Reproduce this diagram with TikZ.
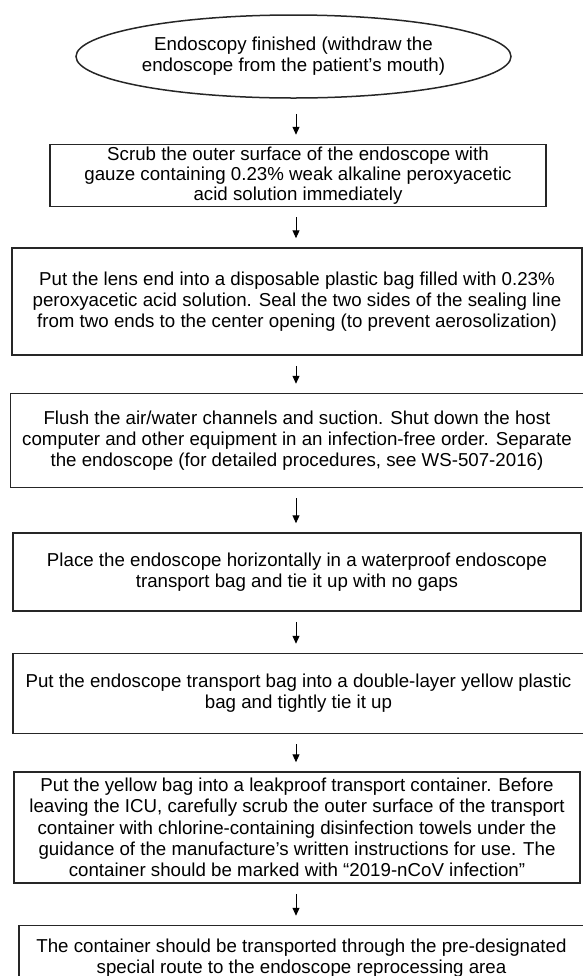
\documentclass[tikz,border=0pt]{standalone}
\usepackage{fontspec}
\setmainfont{Liberation Sans}
\usetikzlibrary{arrows.meta, positioning, shapes.geometric}

\begin{document}
\begin{tikzpicture}[
    x=0.5pt, y=-0.5pt,
    every node/.style={font=\fontsize{9.35}{10.6}\selectfont, text=black},
    startnode/.style={ellipse, draw=black!85, line width=0.75pt, inner sep=0pt, minimum width=217.5pt, minimum height=41.5pt, align=center},
    block/.style={rectangle, draw=black!85, line width=0.75pt, inner sep=0pt, align=center},
    arrow/.style={-{Triangle[length=4pt, width=3.5pt]}, line width=0.5pt, shorten <=5pt, shorten >=4.5pt},
]
\useasboundingbox (0,0) rectangle (583,976);

% Main vertical flow
\node[startnode] (finish) at (293.5,56.5) {Endoscopy finished (withdraw the\\endoscope from the patient’s mouth)};
\node[block, minimum width=248pt, minimum height=31pt, below=22.5pt of finish, xshift=2.25pt, font=\fontsize{9.35}{10}\selectfont] (scrub)
    {Scrub the outer surface of the endoscope with\\gauze containing 0.23\% weak alkaline peroxyacetic\\acid solution immediately};
\node[block, minimum width=285pt, minimum height=53.5pt, below=20pt of scrub, xshift=-0.5pt] (seal)
    {Put the lens end into a disposable plastic bag filled with 0.23\%\\peroxyacetic acid solution. Seal the two sides of the sealing line\\from two ends to the center opening (to prevent aerosolization)};
\node[block, minimum width=286.5pt, minimum height=47pt, below=18.5pt of seal] (flush)
    {Flush the air/water channels and suction. Shut down the host\\computer and other equipment in an infection-free order. Separate\\the endoscope (for detailed procedures, see WS-507-2016)};
\node[block, minimum width=284pt, minimum height=39pt, below=22pt of flush] (place)
    {Place the endoscope horizontally in a waterproof endoscope\\transport bag and tie it up with no gaps};
\node[block, minimum width=285.5pt, minimum height=40pt, below=20.5pt of place, xshift=0.75pt] (yellowbag)
    {Put the endoscope transport bag into a double-layer yellow plastic\\bag and tightly tie it up};
\node[block, minimum width=283pt, minimum height=55.5pt, below=18.5pt of yellowbag, xshift=-0.75pt] (container)
    {Put the yellow bag into a leakproof transport container. Before\\leaving the ICU, carefully scrub the outer surface of the transport\\container with chlorine-containing disinfection towels under the\\guidance of the manufacture’s written instructions for use. The\\container should be marked with “2019-nCoV infection”};
\node[block, minimum width=282.5pt, minimum height=32.5pt, below=20.5pt of container, xshift=2.25pt] (transport)
    {The container should be transported through the pre-designated\\special route to the endoscope reprocessing area};

% Arrows
\coordinate (axis) at (296,0);
\draw[arrow, shorten <=7.5pt] (finish.south -| axis) -- (scrub.north -| axis);
\draw[arrow] (scrub.south -| axis) -- (seal.north -| axis);
\draw[arrow] (seal.south -| axis) -- (flush.north -| axis);
\draw[arrow] (flush.south -| axis) -- (place.north -| axis);
\draw[arrow] (place.south -| axis) -- (yellowbag.north -| axis);
\draw[arrow] (yellowbag.south -| axis) -- (container.north -| axis);
\draw[arrow] (container.south -| axis) -- (transport.north -| axis);

\end{tikzpicture}
\end{document}
